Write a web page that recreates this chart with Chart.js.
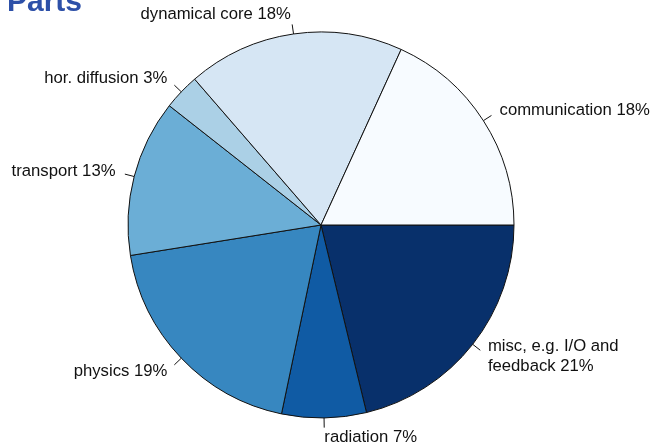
<!DOCTYPE html>
<html>
<head>
<meta charset="utf-8">
<script src="https://cdn.jsdelivr.net/npm/chart.js@4/dist/chart.umd.min.js"></script>
<style>
  html, body { margin: 0; padding: 0; background: #ffffff; }
  #wrap { width: 653px; height: 446px; position: relative; }
</style>
</head>
<body>
<div id="wrap"><canvas id="pie" width="653" height="446"></canvas></div>
<script>
// Share of run time per model component (percent), counter-clockwise from 3 o'clock
const parts = ['communication', 'dynamical core', 'hor. diffusion', 'transport', 'physics', 'radiation', 'misc, e.g. I/O and\nfeedback'];
const shares = [18, 18, 3, 13, 19, 7, 21];
const fills = ['#F7FBFF', '#D6E6F4', '#ABD0E6', '#6BAED6', '#3787C0', '#105BA4', '#08306B'];
const heading = 'Parts';

// Chart.js sweeps clockwise, so feed the slices in reverse order
const order = parts.map((_, i) => parts.length - 1 - i);

const FONT = '"Liberation Sans", Arial, Helvetica, sans-serif';

const sliceLabels = {
  id: 'sliceLabels',
  afterDatasetsDraw(chart) {
    const ctx = chart.ctx;
    const meta = chart.getDatasetMeta(0);
    ctx.save();
    ctx.font = '16.7px ' + FONT;
    ctx.fillStyle = '#111111';
    ctx.strokeStyle = '#111111';
    ctx.lineWidth = 1;
    ctx.textBaseline = 'middle';
    meta.data.forEach((arc, k) => {
      const idx = order[k];
      const mid = (arc.startAngle + arc.endAngle) / 2;
      const r = arc.outerRadius;
      const cx = Math.cos(mid), cy = Math.sin(mid);
      ctx.beginPath();
      ctx.moveTo(arc.x + cx * r, arc.y + cy * r);
      ctx.lineTo(arc.x + cx * r * 1.05, arc.y + cy * r * 1.05);
      ctx.stroke();
      const lines = (parts[idx] + ' ' + shares[idx] + '%').split('\n');
      const tx = arc.x + cx * r * 1.1;
      const ty = arc.y + cy * r * 1.1;
      ctx.textAlign = cx < 0 ? 'right' : 'left';
      const lh = 19.5;
      lines.forEach((s, j) => {
        ctx.fillText(s, tx, ty + (j - (lines.length - 1) / 2) * lh);
      });
    });
    // heading in the top-left corner
    ctx.font = 'bold 30px ' + FONT;
    ctx.fillStyle = '#2D50A8';
    ctx.textAlign = 'left';
    ctx.textBaseline = 'alphabetic';
    ctx.fillText(heading, 7, 11);
    ctx.restore();
  }
};

new Chart(document.getElementById('pie'), {
  type: 'pie',
  data: {
    labels: order.map(i => parts[i]),
    datasets: [{
      data: order.map(i => shares[i]),
      backgroundColor: order.map(i => fills[i]),
      borderColor: '#111111',
      borderWidth: 1,
      hoverOffset: 0,
      offset: 0
    }]
  },
  options: {
    responsive: false,
    animation: false,
    devicePixelRatio: 1,
    rotation: 90,
    radius: 193,
    layout: { padding: { left: 100, right: 111, top: 30, bottom: 26 } },
    plugins: {
      legend: { display: false },
      tooltip: { enabled: false },
      title: { display: false }
    }
  },
  plugins: [sliceLabels]
});
</script>
</body>
</html>
